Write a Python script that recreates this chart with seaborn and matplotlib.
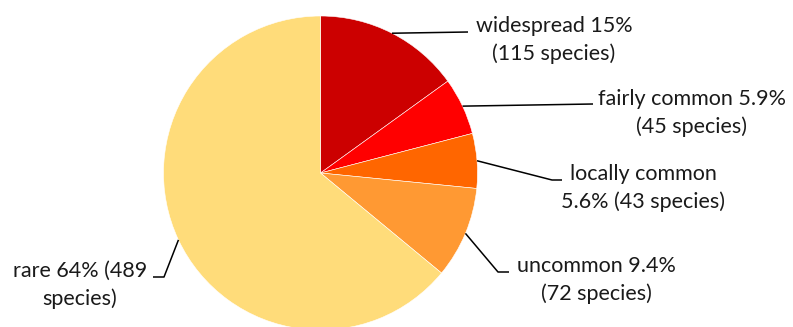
import numpy as np
import matplotlib
matplotlib.use("Agg")
import matplotlib.pyplot as plt
import seaborn as sns

# Species counts by abundance class
categories = ["widespread", "fairly common", "locally common", "uncommon", "rare"]
species = [115, 45, 43, 72, 489]
percent_labels = ["15%", "5.9%", "5.6%", "9.4%", "64%"]
label_texts = [
    "widespread 15%\n(115 species)",
    "fairly common 5.9%\n(45 species)",
    "locally common\n5.6% (43 species)",
    "uncommon 9.4%\n(72 species)",
    "rare 64% (489\nspecies)",
]
colors = ["#CC0000", "#FF0000", "#FF6600", "#FF9933", "#FFDC7A"]

sns.set_theme(style="white")
plt.rcParams["font.family"] = ["Lato", "DejaVu Sans"]

W, H = 793, 327
fig = plt.figure(figsize=(W / 100, H / 100), dpi=100)
ax = fig.add_axes([0, 0, 1, 1])

cx, cy, r = 320.5, H - 173, 157
wedges, _ = ax.pie(
    species, colors=colors, startangle=90, counterclock=False,
    center=(cx, cy), radius=r,
    wedgeprops=dict(edgecolor="white", linewidth=0.4),
)
ax.set_xlim(0, W)
ax.set_ylim(0, H)
ax.set_aspect("auto")
ax.axis("off")

# Leader-line bends and label block centres (pixel coords from top-left)
bends = [
    [(468, 32)],
    [(593, 104)],
    [(552, 180), (562, 180)],
    [(498, 272), (509, 272)],
    [(164, 277), (153, 277)],
]
label_pos = [(554, 40), (692, 113), (643, 188), (596, 280), (80, 285)]

for w, pts, (lx, ly), txt in zip(wedges, bends, label_pos, label_texts):
    mid = np.deg2rad((w.theta1 + w.theta2) / 2)
    ax_pt = (cx + r * np.cos(mid), cy + r * np.sin(mid))
    xs = [ax_pt[0]] + [p[0] for p in pts]
    ys = [ax_pt[1]] + [H - p[1] for p in pts]
    ax.plot(xs, ys, color="black", lw=1.1, solid_capstyle="butt")
    ax.text(lx, H - ly, txt, ha="center", va="center", fontsize=15.5,
            color="#1a1a1a", linespacing=1.45)

fig.savefig("out.png", dpi=100)
